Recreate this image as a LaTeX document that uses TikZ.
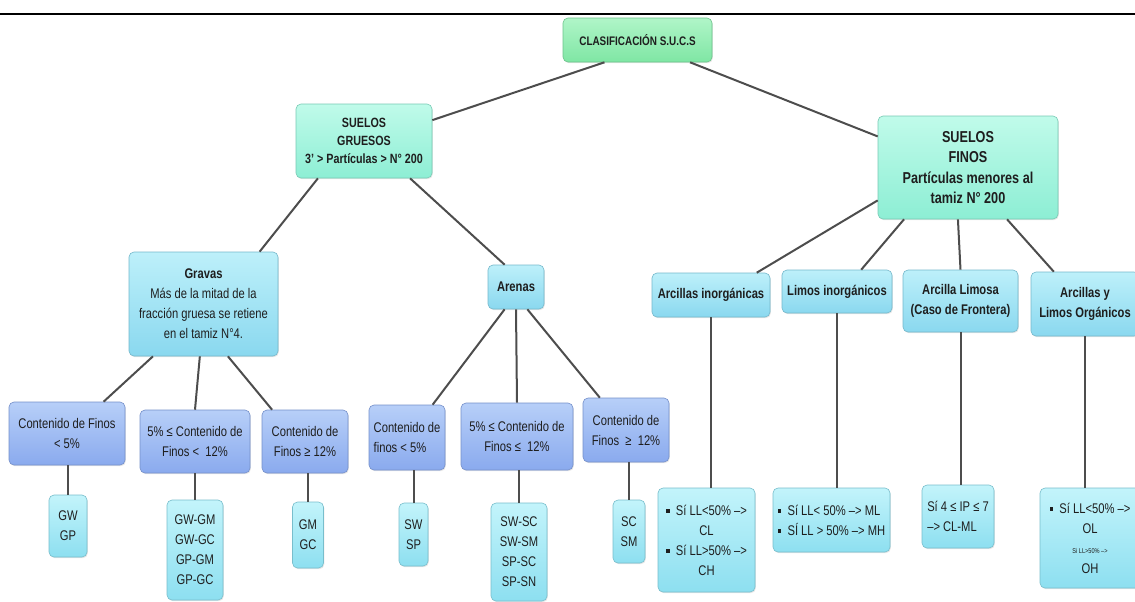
\documentclass[tikz,border=0pt]{standalone}
\usepackage{fontspec}
\setmainfont{Liberation Sans}[FakeStretch=0.8]
\usetikzlibrary{shadows}

\definecolor{rootT}{HTML}{B0F5C8}
\definecolor{rootB}{HTML}{7FE6A4}
\definecolor{mainT}{HTML}{C0FBEA}
\definecolor{mainB}{HTML}{8DEED4}
\definecolor{grpT}{HTML}{BDF0FA}
\definecolor{grpB}{HTML}{8AD8EF}
\definecolor{condT}{HTML}{B7CFF8}
\definecolor{condB}{HTML}{8AAAEE}
\definecolor{leafT}{HTML}{C3F4FB}
\definecolor{leafB}{HTML}{8DDFF0}
\definecolor{linkgray}{HTML}{4D4D4D}
\definecolor{txtgray}{HTML}{1E1E1E}

\newcommand{\sqbul}{\rule[1.1pt]{1.8pt}{1.8pt}}

\begin{document}
\begin{tikzpicture}[x=0.5pt, y=-0.5pt,
  every node/.style={rectangle, rounded corners=2.5pt, align=center, inner sep=1pt, text=txtgray,
    font=\fontsize{7}{10}\selectfont,
    drop shadow={opacity=0.2, shadow xshift=0.4pt, shadow yshift=-0.6pt}},
  rootbox/.style={top color=rootT, bottom color=rootB, draw=rootB!85!black, line width=0.3pt,
    font=\bfseries\fontsize{6.2}{8}\selectfont},
  mainbox/.style={top color=mainT, bottom color=mainB, draw=mainB!85!black, line width=0.3pt},
  grpbox/.style={top color=grpT, bottom color=grpB, draw=grpB!85!black, line width=0.3pt},
  condbox/.style={top color=condT, bottom color=condB, draw=condB!85!black, line width=0.3pt},
  leafbox/.style={top color=leafT, bottom color=leafB, draw=leafB!85!black, line width=0.3pt},
  link/.style={draw=linkgray, line width=1pt}]
                \useasboundingbox (0,0) rectangle (1135,601);
                \draw[line width=1pt] (0,14) -- (1135,14);

                % raiz y suelos
                \node[rootbox, minimum width=74.5pt, minimum height=22pt] (CS) at (637.5,40) {CLASIFICACIÓN S.U.C.S};
                \node[mainbox, minimum width=68pt, minimum height=37pt, font=\bfseries\fontsize{6.7}{9}\selectfont] (SG) at (364,141) {SUELOS\\ GRUESOS\\ 3' > Partículas > N° 200};
                \node[mainbox, minimum width=90pt, minimum height=51.5pt, font=\bfseries\fontsize{7.9}{10.3}\selectfont] (SF) at (968,167.5) {SUELOS\\ FINOS\\ Partículas menores al\\ tamiz N° 200};

                % grupos
                \node[grpbox, minimum width=74.5pt, minimum height=52pt] (GR) at (203.5,304) {\textbf{Gravas}\\ Más de la mitad de la\\ fracción gruesa se retiene\\ en el tamiz N°4.};
                \node[grpbox, minimum width=28pt, minimum height=22pt, font=\bfseries\fontsize{7}{10}\selectfont] (AR) at (516,287) {Arenas};
                \node[grpbox, minimum width=59pt, minimum height=22pt, font=\bfseries\fontsize{7}{10}\selectfont] (AI) at (711,295) {Arcillas inorgánicas};
                \node[grpbox, minimum width=55pt, minimum height=21.5pt, font=\bfseries\fontsize{7}{10}\selectfont] (LI) at (837,291.5) {Limos inorgánicos};
                \node[grpbox, minimum width=57.5pt, minimum height=31pt, font=\bfseries\fontsize{7}{10}\selectfont] (AL) at (960.5,301) {Arcilla Limosa\\ (Caso de Frontera)};
                \node[grpbox, minimum width=54pt, minimum height=32pt, font=\bfseries\fontsize{7}{10}\selectfont] (AO) at (1085,304) {Arcillas y\\ Limos Orgánicos};

                % contenido de finos
                \node[condbox, minimum width=58pt, minimum height=31.5pt] (G1) at (67,433.5) {Contenido de Finos\\ < 5\%};
                \node[condbox, minimum width=55pt, minimum height=31.5pt] (G2) at (195,441.5) {5\% ≤ Contenido de\\ Finos <\ \ 12\%};
                \node[condbox, minimum width=43pt, minimum height=31.5pt] (G3) at (305,441.5) {Contenido de\\ Finos ≥ 12\%};
                \node[condbox, minimum width=38pt, minimum height=32.5pt, align=left] (A1) at (407,437.5) {Contenido de\\ finos < 5\%};
                \node[condbox, minimum width=56pt, minimum height=33.5pt] (A2) at (517,436.5) {5\% ≤ Contenido de\\ Finos ≤\ \ 12\%};
                \node[condbox, minimum width=43pt, minimum height=32pt] (A3) at (626,430) {Contenido de\\ Finos\ \ ≥\ \ 12\%};

                % simbolos
                \node[leafbox, minimum width=19pt, minimum height=31pt] (GWGP) at (68,526) {GW\\ GP};
                \node[leafbox, minimum width=28pt, minimum height=50pt] (GWGM) at (195,550) {GW-GM\\ GW-GC\\ GP-GM\\ GP-GC};
                \node[leafbox, minimum width=15.5pt, minimum height=33pt] (GMGC) at (308,535) {GM\\ GC};
                \node[leafbox, minimum width=14.5pt, minimum height=31.5pt] (SWSP) at (413.5,534.5) {SW\\ SP};
                \node[leafbox, minimum width=28pt, minimum height=49pt] (SWSC) at (519,552) {SW-SC\\ SW-SM\\ SP-SC\\ SP-SN};
                \node[leafbox, minimum width=16pt, minimum height=31.5pt] (SCSM) at (629,531.5) {SC\\ SM};
                \node[leafbox, minimum width=48.5pt, minimum height=52pt] (CLCH) at (706.5,540) {\sqbul\ \ Sí LL<50\% -->\\ CL\\ \sqbul\ \ Sí LL>50\% -->\\ CH};
                \node[leafbox, minimum width=58.5pt, minimum height=32pt, align=left] (MLMH) at (831.5,520) {\sqbul\ \ Sí LL< 50\% --> ML\\ \sqbul\ \ SÍ LL > 50\% --> MH};
                \node[leafbox, minimum width=36pt, minimum height=31.5pt, align=left] (CLML) at (958,516.5) {Sí 4 ≤ IP ≤ 7\\ --> CL-ML};
                \node[leafbox, minimum width=50pt, minimum height=50pt] (OLOH) at (1090,538) {\sqbul\ \ Sí LL<50\% -->\\ OL\\ {\fontsize{3.5}{5}\selectfont Si LL>50\% -->}\\ OH};

                \draw[link] (CS.214) -- (SG.17);
                \draw[link] (CS.-23) -- (SF.161);
                \draw[link] (SG.219) -- (GR.43);
                \draw[link] (SG.321) -- (AR.117);
                \draw[link] (SF.200) -- (AI.26);
                \draw[link] (SF.219) -- (LI.42);
                \draw[link] (SF.259) -- (AL.north);
                \draw[link] (SF.307) -- (AO.134);

                \draw[link] (GR.226) -- (G1.41);
                \draw[link] (GR.266) -- (G2.north);
                \draw[link] (GR.295) -- (G3.136);
                \draw[link] (AR.243) -- (A1.52);
                \draw[link] (AR.south) -- (A2.north);
                \draw[link] (AR.297) -- (A3.129);

                \draw[link] (GWGP.north |- G1.south) -- (GWGP.north);
                \draw[link] (G2.south) -- (GWGM.north);
                \draw[link] (GMGC.north |- G3.south) -- (GMGC.north);
                \draw[link] (SWSP.north |- A1.south) -- (SWSP.north);
                \draw[link] (SWSC.north |- A2.south) -- (SWSC.north);
                \draw[link] (SCSM.north |- A3.south) -- (SCSM.north);
                \draw[link] (AI.south) -- (AI.south |- CLCH.north);
                \draw[link] (LI.south) -- (LI.south |- MLMH.north);
                \draw[link] (AL.south) -- (AL.south |- CLML.north);
                \draw[link] (AO.south) -- (AO.south |- OLOH.north);
            \end{tikzpicture}
\end{document}
